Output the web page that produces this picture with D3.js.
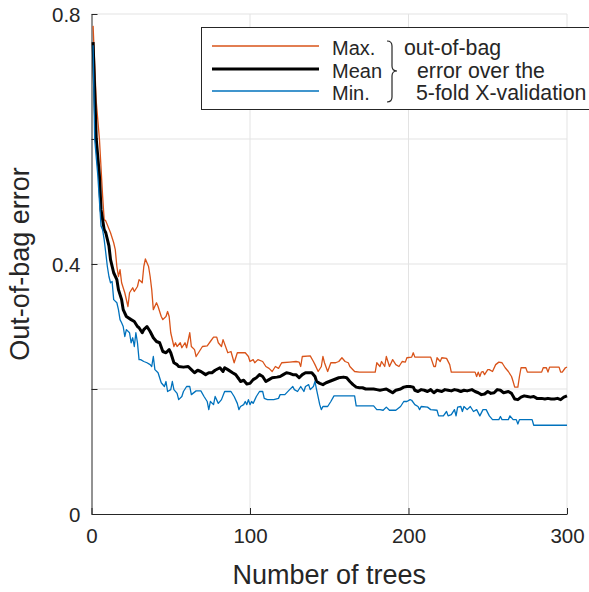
<!DOCTYPE html>
<html>
<head>
<meta charset="utf-8">
<style>
  body { margin: 0; background: #fff; }
  text { font-family: "Liberation Sans", Arial, sans-serif; fill: #262626; }
  .grid line { stroke: #e3e3e3; stroke-width: 1px; }
  .axis path, .axis line { stroke: #262626; }
</style>
</head>
<body>
<div id="viz"></div>
<script src="https://d3js.org/d3.v7.min.js"></script>
<script>
  // [number of trees, out-of-bag error]
  var maxErr = [[1,0.781],[2,0.72],[3,0.66],[5,0.60],[7,0.509],[8,0.471],[9,0.469],[12,0.450],[14,0.434],[15,0.423],[16,0.396],[17,0.380],[18,0.391],[19,0.370],[21,0.354],[23,0.332],[24,0.354],[26,0.362],[27,0.356],[29,0.364],[30,0.375],[32,0.370],[33,0.396],[34,0.408],[36,0.396],[37,0.380],[38,0.359],[39,0.327],[41,0.338],[42,0.332],[44,0.316],[45,0.311],[47,0.316],[48,0.324],[49,0.316],[50,0.290],[52,0.268],[53,0.274],[54,0.268],[56,0.274],[57,0.266],[59,0.274],[60,0.266],[62,0.290],[63,0.268],[65,0.263],[66,0.252],[68,0.260],[70,0.268],[73,0.269],[75,0.276],[77,0.283],[79,0.283],[80,0.274],[82,0.268],[83,0.279],[86,0.258],[88,0.260],[90,0.242],[92,0.258],[94,0.258],[97,0.258],[99,0.252],[100,0.244],[102,0.247],[103,0.242],[105,0.247],[108,0.244],[110,0.236],[112,0.233],[114,0.228],[116,0.236],[118,0.233],[120,0.242],[125,0.243],[129,0.244],[131,0.243],[132,0.236],[133,0.252],[138,0.253],[140,0.244],[141,0.239],[143,0.228],[145,0.236],[146,0.252],[147,0.242],[149,0.228],[151,0.242],[154,0.242],[156,0.244],[158,0.250],[160,0.244],[162,0.242],[163,0.236],[166,0.228],[169,0.227],[179,0.227],[180,0.242],[182,0.236],[183,0.244],[185,0.236],[186,0.252],[187,0.244],[188,0.236],[190,0.247],[192,0.239],[194,0.236],[196,0.244],[198,0.243],[199,0.250],[202,0.251],[203,0.258],[204,0.251],[214,0.251],[216,0.236],[217,0.236],[218,0.250],[220,0.244],[221,0.250],[224,0.249],[226,0.239],[227,0.227],[242,0.227],[243,0.220],[244,0.227],[245,0.220],[246,0.227],[247,0.228],[248,0.223],[250,0.231],[251,0.231],[253,0.228],[255,0.239],[257,0.243],[259,0.242],[261,0.234],[263,0.228],[265,0.220],[266,0.212],[267,0.203],[269,0.203],[270,0.220],[271,0.234],[274,0.234],[275,0.227],[284,0.227],[285,0.234],[287,0.234],[288,0.227],[289,0.235],[295,0.235],[296,0.227],[297,0.227],[299,0.234],[300,0.235]];

  var meanErr = [[1,0.755],[3,0.60],[5,0.541],[6,0.487],[8,0.455],[9,0.450],[11,0.429],[12,0.407],[14,0.386],[16,0.375],[17,0.359],[19,0.343],[20,0.327],[22,0.316],[25,0.311],[27,0.308],[29,0.300],[30,0.298],[32,0.290],[33,0.295],[35,0.300],[37,0.292],[39,0.282],[41,0.276],[43,0.274],[45,0.260],[47,0.258],[49,0.263],[50,0.258],[52,0.242],[54,0.239],[55,0.236],[58,0.235],[61,0.236],[63,0.231],[65,0.226],[67,0.230],[69,0.228],[72,0.223],[74,0.226],[76,0.226],[78,0.230],[81,0.234],[83,0.228],[84,0.234],[86,0.231],[89,0.226],[91,0.223],[93,0.216],[94,0.212],[96,0.214],[98,0.208],[100,0.209],[102,0.215],[104,0.218],[106,0.223],[108,0.220],[110,0.212],[112,0.215],[114,0.218],[117,0.219],[119,0.220],[121,0.223],[123,0.226],[125,0.225],[127,0.223],[129,0.223],[131,0.218],[133,0.223],[135,0.226],[139,0.226],[141,0.220],[142,0.212],[144,0.209],[146,0.207],[148,0.210],[150,0.212],[152,0.214],[154,0.216],[156,0.218],[159,0.219],[161,0.218],[163,0.212],[165,0.207],[167,0.203],[169,0.202],[171,0.202],[173,0.200],[176,0.200],[178,0.200],[180,0.199],[182,0.198],[184,0.199],[186,0.200],[188,0.197],[190,0.194],[192,0.198],[195,0.200],[197,0.203],[199,0.204],[201,0.204],[203,0.203],[204,0.198],[206,0.196],[208,0.199],[210,0.198],[212,0.196],[214,0.199],[216,0.194],[218,0.198],[221,0.196],[223,0.199],[225,0.198],[227,0.197],[229,0.199],[231,0.198],[233,0.196],[235,0.198],[237,0.197],[240,0.199],[242,0.196],[244,0.194],[246,0.191],[248,0.192],[250,0.196],[252,0.193],[254,0.194],[256,0.199],[258,0.198],[260,0.194],[263,0.196],[265,0.193],[267,0.184],[269,0.183],[271,0.187],[273,0.189],[275,0.188],[277,0.187],[279,0.188],[281,0.185],[284,0.185],[286,0.184],[288,0.185],[290,0.184],[292,0.184],[294,0.185],[296,0.183],[298,0.187],[300,0.189]];

  var minErr = [[1,0.75],[2,0.60],[4,0.541],[6,0.461],[7,0.455],[8,0.439],[9,0.418],[10,0.396],[11,0.380],[12,0.370],[13,0.372],[14,0.343],[16,0.338],[17,0.327],[18,0.311],[19,0.306],[20,0.300],[21,0.284],[22,0.295],[24,0.290],[25,0.274],[26,0.282],[27,0.268],[28,0.290],[29,0.274],[30,0.247],[31,0.247],[33,0.244],[35,0.242],[37,0.239],[38,0.236],[39,0.252],[40,0.231],[42,0.226],[44,0.210],[46,0.204],[47,0.212],[48,0.196],[50,0.199],[51,0.212],[52,0.199],[54,0.193],[55,0.183],[57,0.188],[58,0.196],[60,0.204],[62,0.204],[63,0.191],[66,0.197],[69,0.197],[71,0.188],[73,0.180],[74,0.167],[75,0.180],[77,0.175],[78,0.188],[80,0.177],[82,0.183],[84,0.196],[88,0.196],[90,0.188],[92,0.177],[93,0.167],[94,0.172],[96,0.175],[97,0.180],[98,0.175],[99,0.183],[100,0.175],[101,0.180],[102,0.177],[104,0.188],[106,0.196],[108,0.196],[109,0.185],[111,0.183],[115,0.183],[118,0.185],[119,0.191],[122,0.191],[125,0.199],[127,0.204],[128,0.199],[130,0.196],[132,0.204],[134,0.196],[135,0.204],[137,0.207],[138,0.199],[140,0.204],[141,0.212],[142,0.199],[144,0.175],[145,0.167],[146,0.172],[149,0.172],[151,0.180],[153,0.189],[166,0.189],[167,0.173],[178,0.173],[180,0.167],[182,0.167],[184,0.166],[186,0.171],[188,0.166],[192,0.166],[195,0.172],[197,0.180],[199,0.180],[201,0.183],[202,0.182],[204,0.175],[206,0.172],[207,0.167],[208,0.172],[212,0.171],[214,0.167],[218,0.166],[219,0.157],[222,0.157],[224,0.164],[225,0.157],[227,0.159],[229,0.167],[230,0.157],[231,0.171],[233,0.172],[234,0.164],[235,0.172],[237,0.167],[239,0.172],[241,0.164],[243,0.167],[245,0.157],[247,0.167],[249,0.167],[251,0.157],[253,0.151],[257,0.151],[258,0.156],[259,0.151],[263,0.151],[264,0.157],[266,0.151],[268,0.151],[269,0.144],[270,0.151],[278,0.151],[279,0.142],[300,0.142]];

  var xTicks = [0, 100, 200, 300];
  var yTicks = [0, 0.2, 0.4, 0.6, 0.8];
  var yLabels = [0, 0.4, 0.8];
  var legendNames = ["Max.", "Mean", "Min."];
  var legendNote = ["out-of-bag", "error over the", "5-fold X-validation"];

  var svg = d3.select("#viz").append("svg")
    .attr("width", 589)
    .attr("height", 592);

  var x = d3.scaleLinear().domain([0, 300]).range([91.5, 567]);
  var y = d3.scaleLinear().domain([0, 0.8]).range([514, 14]);

  // grid
  var grid = svg.append("g").attr("class", "grid");
  grid.selectAll(".gx").data(xTicks.slice(1)).enter().append("line")
    .attr("x1", d => x(d)).attr("x2", d => x(d))
    .attr("y1", y(0)).attr("y2", y(0.8));
  grid.selectAll(".gy").data(yTicks.slice(1)).enter().append("line")
    .attr("x1", x(0)).attr("x2", x(300))
    .attr("y1", d => y(d)).attr("y2", d => y(d));

  // axes, ticks inward like matlab
  var xAxis = d3.axisBottom(x).tickValues(xTicks).tickSizeInner(-6).tickSizeOuter(0).tickPadding(14);
  var yAxis = d3.axisLeft(y).tickValues(yTicks).tickSizeInner(-6).tickSizeOuter(0).tickPadding(11)
    .tickFormat(d => yLabels.indexOf(d) >= 0 ? d3.format("")(d) : "");

  var gx = svg.append("g").attr("class", "axis").attr("transform", "translate(0," + y(0) + ")").call(xAxis);
  var gy = svg.append("g").attr("class", "axis").attr("transform", "translate(" + x(0) + ",0)").call(yAxis);
  svg.selectAll(".axis text").style("font-size", "20.5px").attr("fill", "#262626")
    .style("font-family", '"Liberation Sans", Arial, sans-serif');
  gy.selectAll("text").attr("dy", "0.35em");

  svg.append("text")
    .attr("x", (x(0) + x(300)) / 2).attr("y", 584)
    .attr("text-anchor", "middle")
    .style("font-size", "27px")
    .text("Number of trees");
  svg.append("text")
    .attr("transform", "translate(29," + y(0.4) + ") rotate(-90)")
    .attr("text-anchor", "middle")
    .style("font-size", "27px")
    .text("Out-of-bag error");

  var line = d3.line().x(d => x(d[0])).y(d => y(d[1]));
  var series = [
    { data: maxErr, color: "#D95319", w: 1.3 },
    { data: meanErr, color: "#000000", w: 3 },
    { data: minErr, color: "#0072BD", w: 1.3 }
  ];
  svg.selectAll(".series").data(series).enter().append("path")
    .attr("fill", "none")
    .attr("stroke", d => d.color)
    .attr("stroke-width", d => d.w)
    .attr("stroke-linejoin", "round")
    .attr("d", d => line(d.data));

  // legend
  var lg = svg.append("g");
  lg.append("rect").attr("x", 201.5).attr("y", 27.5).attr("width", 400).attr("height", 82)
    .attr("fill", "#fff").attr("stroke", "#262626").attr("stroke-width", 1);
  var rows = [46, 69, 91];
  series.forEach(function(s, i) {
    lg.append("line").attr("x1", 212).attr("x2", 319).attr("y1", rows[i]).attr("y2", rows[i])
      .attr("stroke", s.color).attr("stroke-width", s.w);
    lg.append("text").attr("x", 332).attr("y", rows[i] + 9).style("font-size", "20px").text(legendNames[i]);
  });
  lg.append("path")
    .attr("d", "M387,41 Q392,41 392,46 L392,66 Q392,71 397,71 Q392,71 392,76 L392,97 Q392,102 387,102")
    .attr("fill", "none").attr("stroke", "#262626").attr("stroke-width", 1.2);
  var noteX = [404, 417, 416];
  legendNote.forEach(function(t, i) {
    lg.append("text").attr("x", noteX[i]).attr("y", rows[i] + 9).style("font-size", "21.3px").text(t);
  });
</script>
</body>
</html>
